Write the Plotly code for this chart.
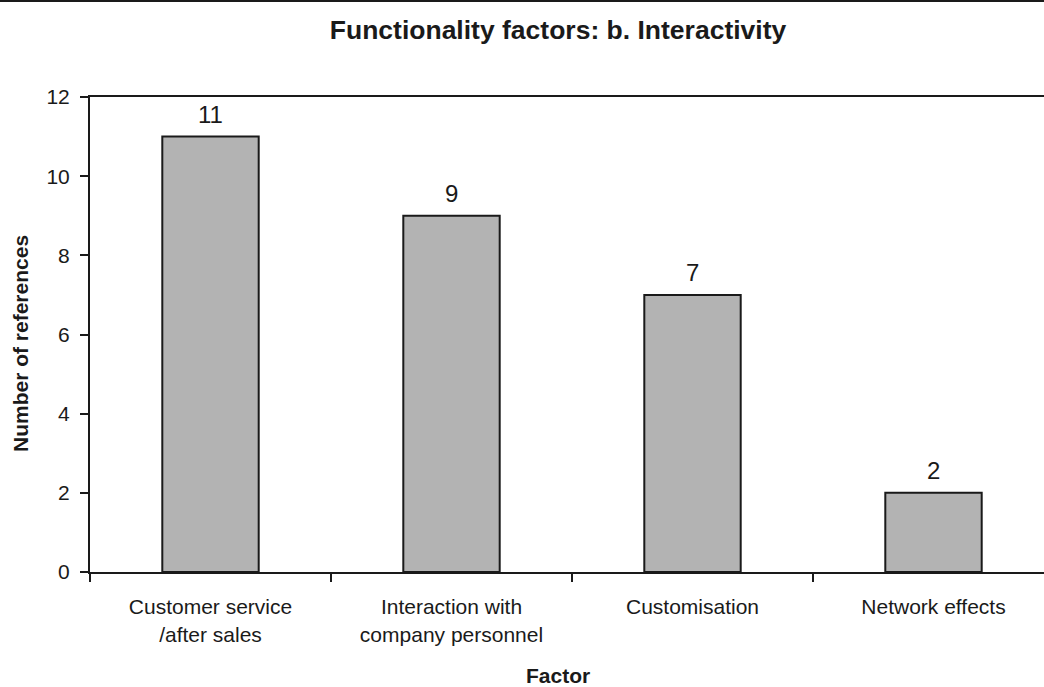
import plotly.graph_objects as go

categories = ["Customer service<br>/after sales", "Interaction with<br>company personnel", "Customisation", "Network effects"]
values = [11, 9, 7, 2]
y_ticks = [0, 2, 4, 6, 8, 10, 12]

title_text = "Functionality factors: b. Interactivity"
x_title = "Factor"
y_title = "Number of references"

FONT = "Liberation Sans, Arial, sans-serif"
INK = "#1a1a1a"

fig = go.Figure()
fig.add_trace(go.Bar(
    x=categories,
    y=values,
    width=0.4,
    marker=dict(color="#b3b3b3", line=dict(color=INK, width=2)),
    cliponaxis=False,
))
for c, v in zip(categories, values):
    fig.add_annotation(x=c, y=v, text=str(v), showarrow=False,
                       yanchor="middle", yshift=22,
                       font=dict(family=FONT, size=24, color=INK))

W, H = 1044, 687
ml, mr, mt, mb = 90, 0, 97, 115
plot_w = W - ml - mr
plot_h = H - mt - mb
cat_w = 241.0
x_max = -0.5 + plot_w / cat_w

fig.update_layout(
    width=W, height=H,
    margin=dict(l=ml, r=mr, t=mt, b=mb),
    paper_bgcolor="white", plot_bgcolor="white",
    showlegend=False,
    font=dict(family=FONT, color=INK),
    title=dict(text="<b>" + title_text + "</b>", x=558 / W, xanchor="center",
               y=1 - 30 / H, yanchor="middle", yref="container",
               font=dict(family=FONT, size=26.5, color=INK)),
)
fig.update_xaxes(
    type="category",
    range=[-0.5, x_max],
    tickson="boundaries",
    ticks="outside", ticklen=8, tickwidth=2, tickcolor=INK,
    ticklabelstandoff=15,
    showline=True, linecolor=INK, linewidth=2, mirror=True,
    showgrid=False, zeroline=False,
    tickfont=dict(family=FONT, size=21, color=INK),
)
fig.update_yaxes(
    range=[0, 12],
    tickmode="array", tickvals=y_ticks,
    ticks="outside", ticklen=8, tickwidth=2, tickcolor=INK,
    ticklabelstandoff=6,
    showline=True, linecolor=INK, linewidth=2,
    showgrid=False, zeroline=False,
    tickfont=dict(family=FONT, size=21, color=INK),
)
fig.add_annotation(text="<b>" + x_title + "</b>", xref="paper", yref="paper",
                   x=(558 - ml) / plot_w, y=0, yshift=-103, yanchor="middle",
                   showarrow=False, font=dict(family=FONT, size=21, color=INK))
fig.add_annotation(text="<b>" + y_title + "</b>", xref="paper", yref="paper",
                   x=0, xshift=-70, y=(572 - 344) / plot_h, textangle=-90,
                   xanchor="center", yanchor="middle",
                   showarrow=False, font=dict(family=FONT, size=21, color=INK))
fig.add_shape(type="line", xref="paper", yref="paper",
              x0=-ml / plot_w, x1=1.0, y0=1 + (mt - 1) / plot_h, y1=1 + (mt - 1) / plot_h,
              line=dict(color=INK, width=2))

fig.write_html("out.html", config={"displayModeBar": False},
               post_script="document.body.style.margin='0px';")
